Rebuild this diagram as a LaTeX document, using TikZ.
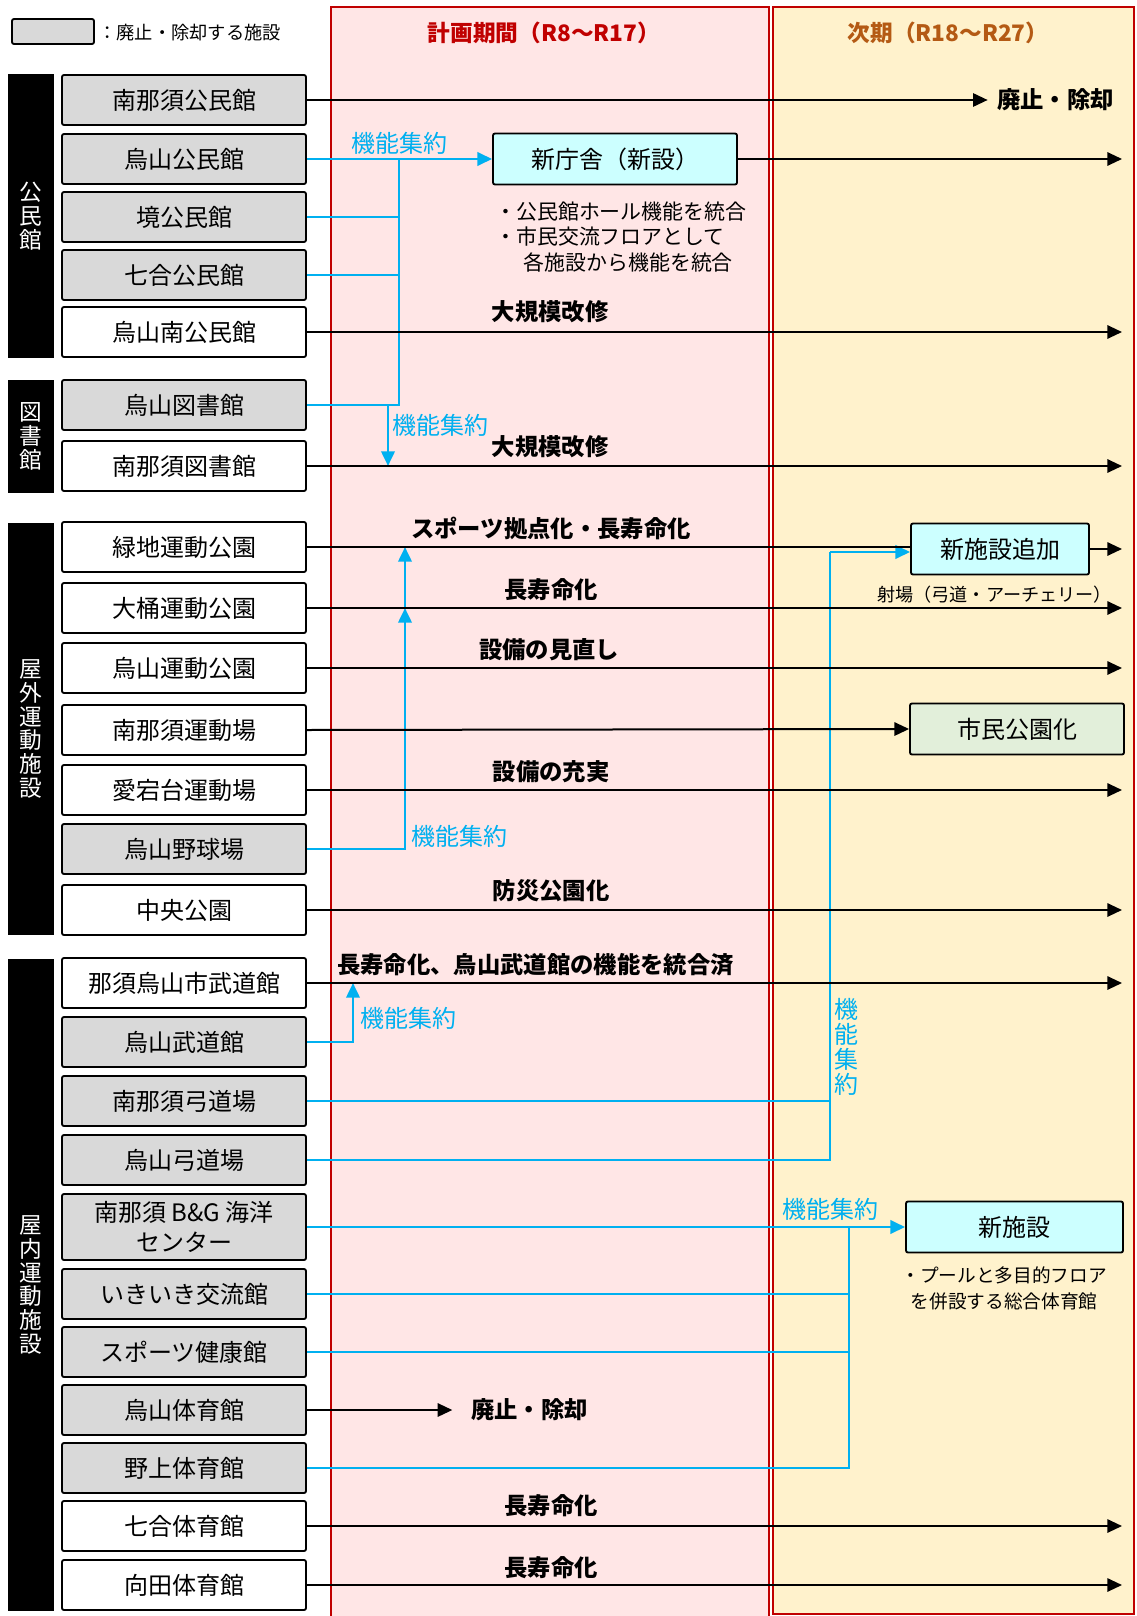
\documentclass[tikz,border=0pt]{standalone}
\usepackage{fontspec}
\setmainfont{Noto Sans CJK JP}
\usepackage{xcolor}
\definecolor{hsGray}  {RGB}{217, 217, 217}
\definecolor{hsBlue}  {RGB}{  0, 176, 240}
\definecolor{hsRed}   {RGB}{192,   0,   0}
\definecolor{hsBrown} {RGB}{180,  90,  20}
\definecolor{hsPink}  {RGB}{255, 230, 230}
\definecolor{hsCream} {RGB}{255, 242, 204}
\definecolor{hsCyan}  {RGB}{204, 255, 255}
\definecolor{hsGreen} {RGB}{226, 239, 218}
\usetikzlibrary{arrows.meta,positioning}

\begin{document}
\begin{tikzpicture}[
  x=0.75pt, y=-0.75pt,
  >={Triangle[length=11pt,width=10pt]},
  fac/.style={draw=black, line width=1.4pt, rounded corners=1.5pt, fill=white,
              minimum width=183pt, minimum height=37.5pt, inner sep=0pt,
              align=center, font=\fontsize{18pt}{23pt}\selectfont},
  gone/.style={fac, fill=hsGray},
  newbox/.style={fac, fill=hsCyan, minimum height=38.25pt},
  parkbox/.style={fac, fill=hsGreen, minimum height=38.25pt},
  cat/.style={fill=black, text=white, inner sep=0pt, minimum width=34.5pt,
              align=center, font=\fontsize{17pt}{17.8pt}\selectfont},
  head/.style={inner sep=0pt, font=\bfseries\fontsize{17pt}{19pt}\selectfont},
  tag/.style={inner sep=0pt, font=\bfseries\fontsize{17.5pt}{20pt}\selectfont},
  lbl/.style={inner sep=0pt, text=hsBlue, font=\fontsize{18pt}{18.6pt}\selectfont},
  note/.style={inner sep=0pt, align=left, font=\fontsize{15.7pt}{19pt}\selectfont},
  bus/.style={->, line width=1.5pt},
  line/.style={line width=1.5pt},
  bluebus/.style={->, line width=2pt, color=hsBlue},
  blueline/.style={line width=2pt, color=hsBlue},
]
  \useasboundingbox (0,0) rectangle (1136,1616);

  % the two periods as coloured columns
  \draw[draw=hsRed, fill=hsPink, line width=1.3pt]  (331,7) rectangle (769,1625);
  \draw[draw=hsRed, fill=hsCream, line width=1.3pt] (773,7) rectangle (1134,1614);
  \node[head, text=hsRed]   (hPlan) at (544,33) {計画期間（R8〜R17）};
  \node[head, text=hsBrown] (hNext) at (948,33) {次期（R18〜R27）};

  % legend
  \node[gone, minimum width=61.5pt, minimum height=18.75pt] (legBox) at (53,31.5) {};
  \node[note, anchor=west, font=\fontsize{13.7pt}{16pt}\selectfont] (legTxt) at (98,33) {：廃止・除却する施設};

  % category bars on the left edge
  \node[cat, minimum height=213pt]   (catKom) at (31,216)   {公\\民\\館};
  \node[cat, minimum height=84.75pt] (catLib) at (31,436.5) {図\\書\\館};
  \node[cat, minimum height=309pt]   (catOut) at (31,729)   {屋\\外\\運\\動\\施\\設};
  \node[cat, minimum height=489pt]   (catIn)  at (31,1285)  {屋\\内\\運\\動\\施\\設};

  % 公民館
  \node[gone] (kom1) at (184,100) {南那須公民館};
  \node[gone] (kom2) at (184,159) {烏山公民館};
  \node[gone] (kom3) at (184,217) {境公民館};
  \node[gone] (kom4) at (184,275) {七合公民館};
  \node[fac]  (kom5) at (184,332) {烏山南公民館};
  % 図書館
  \node[gone] (lib1) at (184,405) {烏山図書館};
  \node[fac]  (lib2) at (184,466) {南那須図書館};
  % 屋外運動施設
  \node[fac]  (out1) at (184,547) {緑地運動公園};
  \node[fac]  (out2) at (184,608) {大桶運動公園};
  \node[fac]  (out3) at (184,668) {烏山運動公園};
  \node[fac]  (out4) at (184,730) {南那須運動場};
  \node[fac]  (out5) at (184,790) {愛宕台運動場};
  \node[gone] (out6) at (184,849) {烏山野球場};
  \node[fac]  (out7) at (184,910) {中央公園};
  % 屋内運動施設
  \node[fac]  (in1)  at (184,983)  {那須烏山市武道館};
  \node[gone] (in2)  at (184,1042) {烏山武道館};
  \node[gone] (in3)  at (184,1101) {南那須弓道場};
  \node[gone] (in4)  at (184,1160) {烏山弓道場};
  \node[gone, minimum height=49.5pt] (in5) at (184,1227) {南那須 B\&G 海洋\\センター};
  \node[gone] (in6)  at (184,1294) {いきいき交流館};
  \node[gone] (in7)  at (184,1352) {スポーツ健康館};
  \node[gone] (in8)  at (184,1410) {烏山体育館};
  \node[gone] (in9)  at (184,1468) {野上体育館};
  \node[fac]  (in10) at (184,1526) {七合体育館};
  \node[fac]  (in11) at (184,1585) {向田体育館};

  % new facilities
  \node[newbox]  (office) at (615,159)    {新庁舎（新設）};
  \node[newbox, minimum width=133.5pt]  (addFac) at (1000,549)  {新施設追加};
  \node[parkbox, minimum width=160.5pt] (park)   at (1017,729)  {市民公園化};
  \node[newbox, minimum width=162.75pt] (newGym) at (1014.5,1227) {新施設};

  % notes
  \node[note, anchor=west] (officeNote) at (495,237)
    {・公民館ホール機能を統合\\・市民交流フロアとして\\\hspace*{1.35em}各施設から機能を統合};
  \node[note, anchor=west, font=\fontsize{13.6pt}{16pt}\selectfont] (rangeNote) at (877,595)
    {射場（弓道・アーチェリー）};
  \node[note, align=center, font=\fontsize{14pt}{19.5pt}\selectfont] (gymNote) at (1004,1288)
    {・プールと多目的フロア\\を併設する総合体育館};

  % merging connectors (blue)
  \coordinate (hubKom)  at (399,159);
  \coordinate (dropLib) at (388,405);
  \coordinate (hubOut)  at (405,849);
  \coordinate (hubBudo) at (353,1042);
  \coordinate (hubKyu)  at (830,552);
  \coordinate (hubGym)  at (849,1227);

  \draw[bluebus]  (kom2.east) -- (kom2.east -| office.west);
  \draw[blueline] (kom3.east) -- (kom3.east -| hubKom);
  \draw[blueline] (kom4.east) -- (kom4.east -| hubKom);
  \draw[blueline] (hubKom) -- (hubKom |- lib1.east) -- (lib1.east);
  \draw[bluebus]  (dropLib) -- (dropLib |- lib2.east);

  \draw[bluebus]  (out6.east) -| (out2.east -| hubOut);
  \draw[bluebus]  (out2.east -| hubOut) -- (out1.east -| hubOut);

  \draw[bluebus]  (in2.east) -| (in1.east -| hubBudo);

  \draw[blueline] (in3.east) -- (in3.east -| hubKyu);
  \draw[blueline] (in4.east) -| (hubKyu);
  \draw[bluebus]  (hubKyu) -- (hubKyu -| addFac.west);

  \draw[bluebus]  (in5.east) -- (newGym.west);
  \draw[blueline] (in6.east) -- (in6.east -| hubGym);
  \draw[blueline] (in7.east) -- (in7.east -| hubGym);
  \draw[blueline] (in9.east) -| (hubGym);

  \node[lbl] (kA) at (399,143)  {機能集約};
  \node[lbl] (kB) at (440,425)  {機能集約};
  \node[lbl] (kC) at (459,836)  {機能集約};
  \node[lbl] (kD) at (408,1018) {機能集約};
  \node[lbl, align=center] (kE) at (846,1047) {機\\能\\集\\約};
  \node[lbl] (kF) at (830,1209) {機能集約};

  % timelines (black)
  \coordinate (rim) at (1122,0);
  \node[tag, anchor=west] (endKom) at (997,100)  {廃止・除却};
  \node[tag, anchor=west] (endGym) at (471,1410) {廃止・除却};

  \draw[bus]  (kom1.east) -- ([xshift=-7pt]endKom.west);
  \draw[bus]  (office.east) -- (office.east -| rim);
  \draw[bus]  (kom5.east) -- (kom5.east -| rim);
  \draw[bus]  (lib2.east) -- (lib2.east -| rim);
  \draw[line] (out1.east) -- (out1.east -| addFac.west);
  \draw[bus]  (addFac.east) -- (addFac.east -| rim);
  \draw[bus]  (out2.east) -- (out2.east -| rim);
  \draw[bus]  (out3.east) -- (out3.east -| rim);
  \draw[bus]  (out4.east) -- (park.west);
  \draw[bus]  (out5.east) -- (out5.east -| rim);
  \draw[bus]  (out7.east) -- (out7.east -| rim);
  \draw[bus]  (in1.east) -- (in1.east -| rim);
  \draw[bus]  (in8.east) -- ([xshift=-14pt]endGym.west);
  \draw[bus]  (in10.east) -- (in10.east -| rim);
  \draw[bus]  (in11.east) -- (in11.east -| rim);

  \node[tag] (tKom5) at (550,312)  {大規模改修};
  \node[tag] (tLib2) at (550,447)  {大規模改修};
  \node[tag] (tOut1) at (551,528)  {スポーツ拠点化・長寿命化};
  \node[tag] (tOut2) at (551,590)  {長寿命化};
  \node[tag] (tOut3) at (549,650)  {設備の見直し};
  \node[tag] (tOut5) at (551,772)  {設備の充実};
  \node[tag] (tOut7) at (551,891)  {防災公園化};
  \node[tag, anchor=west] (tIn1) at (337,965) {長寿命化、烏山武道館の機能を統合済};
  \node[tag] (tIn10) at (551,1506) {長寿命化};
  \node[tag] (tIn11) at (551,1568) {長寿命化};
\end{tikzpicture}
\end{document}
